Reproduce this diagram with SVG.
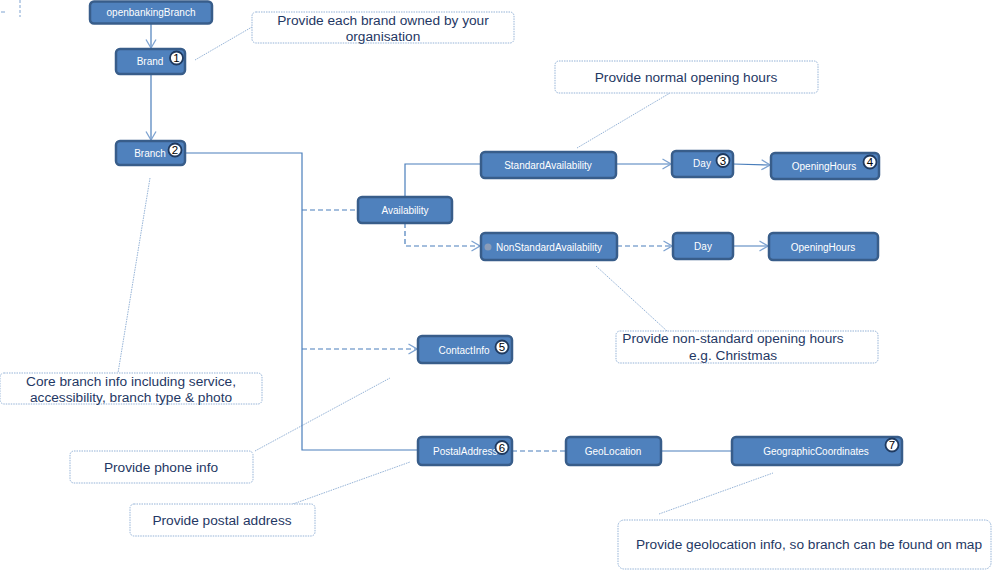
<svg xmlns="http://www.w3.org/2000/svg" width="992" height="570" viewBox="0 0 992 570">
<style>
.node rect.b{fill:#4F81BD;stroke:#385D8A;stroke-width:2.5}
.node text{font-family:"Liberation Sans",Arial,sans-serif;font-size:10px;fill:#FFFFFF;text-anchor:middle}
.badge circle{fill:#FFFFFF;stroke:#1F3A60;stroke-width:1.8}
.badge text{font-family:"Liberation Sans",Arial,sans-serif;font-size:11.5px;fill:#000;text-anchor:middle}
.call rect{fill:#FFFFFF;stroke:#95B3D7;stroke-width:1;stroke-dasharray:1.5 1}
.call text{font-family:"Liberation Sans",Arial,sans-serif;font-size:13.7px;fill:#1F3864;text-anchor:middle}
.lead{stroke:#95B3D7;stroke-width:1;stroke-dasharray:1.5 1;fill:none}
.c{stroke:#4A7EBB;stroke-width:1.2;fill:none}
.d{stroke:#4A7EBB;stroke-width:1.2;fill:none;stroke-dasharray:5 3}
</style>
<defs>
<marker id="ah" viewBox="0 0 10 12" refX="9.5" refY="6" markerWidth="10" markerHeight="12" markerUnits="userSpaceOnUse" orient="auto">
<path d="M1,1 L9.5,6 L1,11" fill="none" stroke="#7EA3D1" stroke-width="1.3"/>
</marker>
</defs>
<rect width="992" height="570" fill="#FFFFFF"/>
<g id="artifacts" stroke="#7EA3D1" stroke-width="1">
<line x1="1" y1="12" x2="5" y2="12"/>
<line x1="20" y1="0" x2="20" y2="17" stroke-dasharray="3 2"/>
</g>
<g id="leaders">
<line class="lead" x1="195" y1="60" x2="252" y2="27"/>
<line class="lead" x1="577" y1="148" x2="670" y2="93"/>
<line class="lead" x1="596" y1="266" x2="667" y2="331"/>
<line class="lead" x1="150" y1="178" x2="118" y2="373"/>
<line class="lead" x1="255" y1="451" x2="390" y2="378"/>
<line class="lead" x1="293" y1="504" x2="410" y2="462"/>
<line class="lead" x1="659" y1="514" x2="773" y2="473"/>
</g>
<g id="connectors">
<line class="c" x1="151" y1="24" x2="151" y2="48" marker-end="url(#ah)"/>
<line class="c" x1="151" y1="74" x2="151" y2="140" marker-end="url(#ah)"/>
<polyline class="c" points="185,153 302,153 302,450 418,450"/>
<line class="d" x1="302" y1="210" x2="358" y2="210"/>
<line class="d" x1="302" y1="349" x2="417" y2="349" marker-end="url(#ah)"/>
<polyline class="c" points="405,197 405,164 481,164"/>
<polyline class="d" points="405,223 405,246 480,246" marker-end="url(#ah)"/>
<line class="c" x1="616" y1="164" x2="671" y2="164" marker-end="url(#ah)"/>
<line class="c" x1="733" y1="164" x2="770" y2="165" marker-end="url(#ah)"/>
<line class="d" x1="617" y1="246" x2="672" y2="246" marker-end="url(#ah)"/>
<line class="c" x1="733" y1="246" x2="768" y2="246" marker-end="url(#ah)"/>
<line class="d" x1="512" y1="451" x2="566" y2="451"/>
<line class="c" x1="661" y1="451" x2="732" y2="451"/>
</g>
<g id="n-openbankingBranch" class="node"><rect class="b" x="90" y="1.5" width="122" height="22" rx="4"/><text x="151" y="16">openbankingBranch</text></g>
<g id="n-brand" class="node"><rect class="b" x="116" y="49" width="69" height="25" rx="4"/><text x="150" y="64.5">Brand</text>
<g class="badge"><circle cx="176.5" cy="58" r="6.5"/><text x="176.5" y="62">1</text></g></g>
<g id="n-branch" class="node"><rect class="b" x="116" y="141" width="69" height="24" rx="4"/><text x="150" y="156.5">Branch</text>
<g class="badge"><circle cx="175" cy="150" r="6.5"/><text x="175" y="154">2</text></g></g>
<g id="n-availability" class="node"><rect class="b" x="358" y="197" width="94" height="26" rx="4"/><text x="405" y="213.5">Availability</text></g>
<g id="n-standard" class="node"><rect class="b" x="481" y="152" width="135" height="26" rx="4"/><text x="548" y="168.5">StandardAvailability</text></g>
<g id="n-nonstandard" class="node"><rect class="b" x="481" y="233" width="136" height="27" rx="4"/><circle cx="488" cy="247" r="3.5" fill="#8A9CB8"/><text x="549" y="250.5">NonStandardAvailability</text></g>
<g id="n-day1" class="node"><rect class="b" x="672" y="151" width="61" height="26" rx="4"/><text x="702" y="167">Day</text>
<g class="badge"><circle cx="723" cy="160.5" r="6.5"/><text x="723" y="164.5">3</text></g></g>
<g id="n-hours1" class="node"><rect class="b" x="771" y="153" width="108" height="26" rx="4"/><text x="824" y="169.5">OpeningHours</text>
<g class="badge"><circle cx="870" cy="162" r="6.5"/><text x="870" y="166">4</text></g></g>
<g id="n-day2" class="node"><rect class="b" x="673" y="233" width="60" height="26" rx="4"/><text x="703" y="249.5">Day</text></g>
<g id="n-hours2" class="node"><rect class="b" x="769" y="233" width="109" height="27" rx="4"/><text x="823" y="250.5">OpeningHours</text></g>
<g id="n-contact" class="node"><rect class="b" x="418" y="336" width="94" height="27" rx="4"/><text x="464" y="353.5">ContactInfo</text>
<g class="badge"><circle cx="502" cy="347" r="6.5"/><text x="502" y="351">5</text></g></g>
<g id="n-postal" class="node"><rect class="b" x="418" y="437" width="94" height="28" rx="4"/><text x="433" y="454.5" style="text-anchor:start">PostalAddress</text>
<g class="badge"><circle cx="502" cy="447.5" r="6.5"/><text x="502" y="451.5">6</text></g></g>
<g id="n-geolocation" class="node"><rect class="b" x="566" y="437" width="95" height="28" rx="4"/><text x="613" y="454.5">GeoLocation</text></g>
<g id="n-geocoords" class="node"><rect class="b" x="732" y="437" width="170" height="28" rx="4"/><text x="816" y="454.5">GeographicCoordinates</text>
<g class="badge"><circle cx="892" cy="445" r="6.5"/><text x="892" y="449">7</text></g></g>
<g id="c-brand" class="call"><rect x="252" y="12" width="262" height="31" rx="4"/><text x="383" y="24.5">Provide each brand owned by your</text><text x="383" y="41">organisation</text></g>
<g id="c-normal" class="call"><rect x="555" y="61" width="263" height="32" rx="4"/><text x="686" y="81.5">Provide normal opening hours</text></g>
<g id="c-nonstandard" class="call"><rect x="616" y="331" width="262" height="32" rx="4"/><text x="733" y="343">Provide non-standard opening hours</text><text x="733" y="360">e.g. Christmas</text></g>
<g id="c-core" class="call"><rect x="0" y="373" width="262" height="31" rx="4"/><text x="131" y="385.5">Core branch info including service,</text><text x="131" y="402">accessibility,  branch type &amp; photo</text></g>
<g id="c-phone" class="call"><rect x="70" y="451" width="183" height="32" rx="4"/><text x="161" y="471.5">Provide phone info</text></g>
<g id="c-postal" class="call"><rect x="130" y="504" width="185" height="32" rx="4"/><text x="222" y="524.5">Provide postal address</text></g>
<g id="c-geo" class="call"><rect x="618" y="520" width="373" height="49" rx="6"/><text x="809" y="549">Provide geolocation info, so branch can be found on map</text></g>
</svg>
